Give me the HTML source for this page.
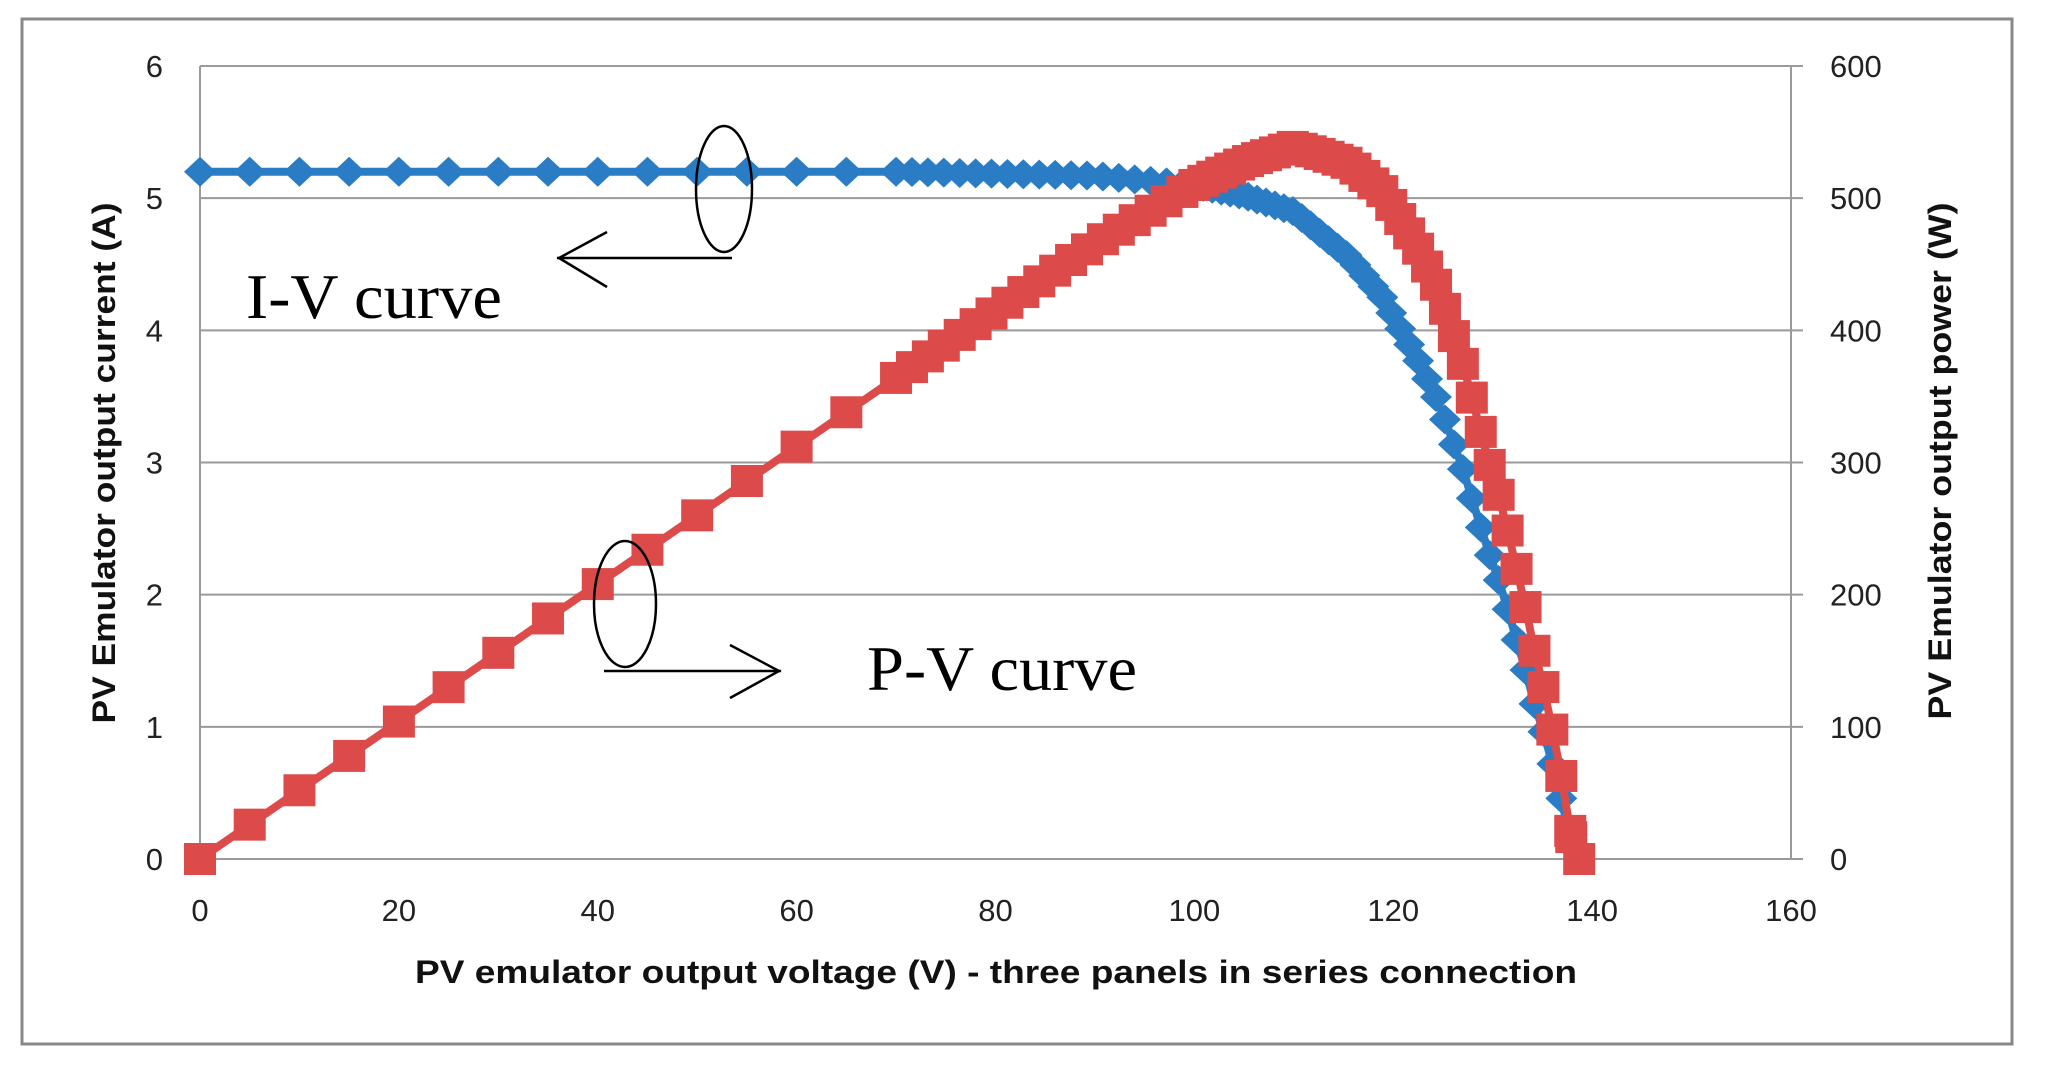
<!DOCTYPE html>
<html><head><meta charset="utf-8"><style>
html,body{margin:0;padding:0;background:#fff;}
svg{display:block;}
</style></head><body>
<svg id="s" width="2053" height="1082" xmlns="http://www.w3.org/2000/svg">
<rect x="0" y="0" width="2053" height="1082" fill="#fff"/>
<rect x="22" y="19" width="1990" height="1025" fill="#fff" stroke="#888" stroke-width="3"/>
<g id="grid" stroke="#9a9a9a" stroke-width="2"></g>
<g id="blue"></g>
<g id="red"></g>
<g font-family="'Liberation Sans',sans-serif" font-size="31" fill="#222" id="labels"></g>
<text x="996" y="983" text-anchor="middle" font-family="'Liberation Sans',sans-serif" font-weight="bold" font-size="32" textLength="1162" lengthAdjust="spacingAndGlyphs" fill="#111">PV emulator output voltage (V) - three panels in series connection</text>
<text transform="translate(115,463) rotate(-90)" text-anchor="middle" font-family="'Liberation Sans',sans-serif" font-weight="bold" font-size="32" textLength="521" lengthAdjust="spacingAndGlyphs" fill="#111">PV Emulator output current (A)</text>
<text transform="translate(1951,461) rotate(-90)" text-anchor="middle" font-family="'Liberation Sans',sans-serif" font-weight="bold" font-size="32" textLength="517" lengthAdjust="spacingAndGlyphs" fill="#111">PV Emulator output power (W)</text>
<text x="246" y="318" font-family="'Liberation Serif',serif" font-size="64" textLength="256" lengthAdjust="spacingAndGlyphs" fill="#000">I-V curve</text>
<text x="867" y="690" font-family="'Liberation Serif',serif" font-size="64" textLength="270" lengthAdjust="spacingAndGlyphs" fill="#000">P-V curve</text>
<g fill="none" stroke="#000" stroke-width="2.5">
<ellipse cx="724" cy="189" rx="28" ry="63"/>
<ellipse cx="625" cy="604" rx="31" ry="63"/>
<line x1="732" y1="258" x2="557" y2="258"/>
<polyline points="607,232 559,258 607,287"/>
<line x1="604" y1="671" x2="781" y2="671"/>
<polyline points="730,645 779,671 730,698"/>
</g>
</svg>
<script>
const NS="http://www.w3.org/2000/svg";
const X0=200,X1=1791,Y0=859,YT=66;
const px=v=>X0+(X1-X0)*v/160;
const pyI=i=>Y0-(Y0-YT)*i/6;
const pyP=p=>Y0-(Y0-YT)*p/600;
function el(p,tag,attrs,txt){const e=document.createElementNS(NS,tag);for(const k in attrs)e.setAttribute(k,attrs[k]);if(txt!==undefined)e.textContent=txt;p.appendChild(e);return e;}
const g=document.getElementById('grid'),lab=document.getElementById('labels');
for(let k=0;k<=6;k++){const y=pyI(k);el(g,'line',{x1:X0,y1:y,x2:X1+12,y2:y});
 el(lab,'text',{x:163,y:y+11,'text-anchor':'end'},k);
 el(lab,'text',{x:1830,y:y+11},k*100);}
el(g,'line',{x1:X0,y1:YT,x2:X0,y2:Y0});
el(g,'line',{x1:X1,y1:YT,x2:X1,y2:Y0});
for(let v=0;v<=160;v+=20){el(lab,'text',{x:px(v),y:921,'text-anchor':'middle'},v);}
const K=[[0,5.2],[70,5.2],[90,5.17],[100,5.1],[105,5.02],[110,4.9],[115.6,4.55],[118.9,4.25],[122.3,3.8],[124.6,3.45],[127,2.95],[129,2.46],[130,2.23],[131,2.03],[132,1.75],[133,1.52],[134,1.22],[135,0.99],[136,0.72],[137,0.43],[137.9,0.12],[138.7,0]];
function Iof(v){for(let k=1;k<K.length;k++){if(v<=K[k][0]){const [a,b]=K[k-1],[c,d]=K[k];return b+(d-b)*(v-a)/(c-a);}}return 0;}
let V=[];for(let v=0;v<70;v+=5)V.push(v);for(let v=70;v<100;v+=1.6)V.push(v);for(let v=100;v<=137.95;v+=0.9)V.push(v);V.push(137.9);V.push(138.7);
const I=V.map(Iof);
const P=V.map((v,i)=>v*I[i]);
const b=document.getElementById('blue'),r=document.getElementById('red');
el(b,'polyline',{points:V.map((v,i)=>px(v)+','+pyI(I[i])).join(' '),fill:'none',stroke:'#2a7dc4','stroke-width':8});
V.forEach((v,i)=>{const x=px(v),y=pyI(I[i]);el(b,'polygon',{points:`${x-16},${y} ${x},${y-15} ${x+16},${y} ${x},${y+15}`,fill:'#2a7dc4'});});
el(r,'polyline',{points:V.map((v,i)=>px(v)+','+pyP(P[i])).join(' '),fill:'none',stroke:'#dc4a4a','stroke-width':8});
V.forEach((v,i)=>{const x=px(v),y=pyP(P[i]);el(r,'rect',{x:x-16,y:y-16,width:32,height:32,fill:'#dc4a4a'});});
</script>
</body></html>
